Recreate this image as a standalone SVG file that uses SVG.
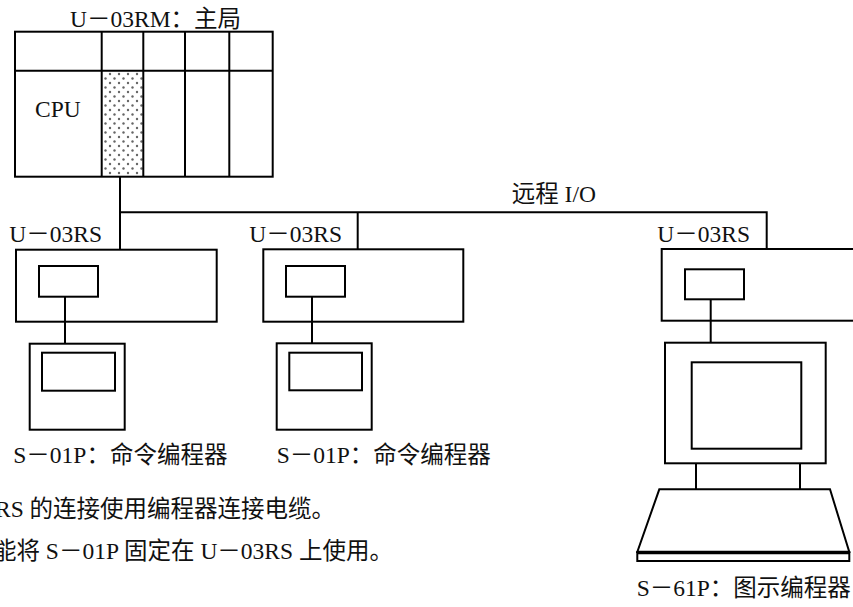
<svg xmlns="http://www.w3.org/2000/svg" width="853" height="607" viewBox="0 0 853 607">
  <style>
    .box { fill: none; stroke: #000; stroke-width: 2; }
    .wire { fill: none; stroke: #000; stroke-width: 2; }
    .lbl { font-family: "Liberation Serif", "Noto Sans CJK SC", serif; font-size: 23.5px; fill: #111; }
  </style>
  <defs>
    <!-- dotted fill for the remote I/O master module slot -->
    <pattern id="dots" width="9" height="9" patternUnits="userSpaceOnUse">
      <rect width="9" height="9" fill="#fff"/>
      <circle cx="2" cy="2" r="1.2" fill="#666"/>
      <circle cx="6.5" cy="6.5" r="1.2" fill="#666"/>
    </pattern>
  </defs>
  <rect width="853" height="607" fill="#fff"/>

  <!-- master rack -->
  <g id="master">
    <rect x="101.7" y="70.7" width="41.6" height="106" fill="url(#dots)"/>
    <rect class="box" x="15" y="31.7" width="257.7" height="145"/>
    <line class="box" x1="15" y1="70.7" x2="272.7" y2="70.7"/>
    <line class="box" x1="101.7" y1="31.7" x2="101.7" y2="176.7"/>
    <line class="box" x1="143.3" y1="31.7" x2="143.3" y2="176.7"/>
    <line class="box" x1="185" y1="31.7" x2="185" y2="176.7"/>
    <line class="box" x1="229.3" y1="31.7" x2="229.3" y2="176.7"/>
    <text class="lbl" x="70" y="26.5">U－03RM：主局</text>
    <text class="lbl" x="35" y="116.5">CPU</text>
  </g>

  <!-- remote I/O bus and device links -->
  <g id="connectors">
    <polyline class="wire" points="120,176.7 120,212.3 766.7,212.3 766.7,249"/>
    <line class="wire" x1="120" y1="212.3" x2="120" y2="249.5"/>
    <line class="wire" x1="357.7" y1="212.3" x2="357.7" y2="249.3"/>
    <line class="wire" x1="65" y1="296.7" x2="65" y2="343.5"/>
    <line class="wire" x1="312" y1="296.7" x2="312" y2="343.3"/>
    <line class="wire" x1="710.7" y1="299.3" x2="710.7" y2="342.7"/>
    <line class="wire" x1="696" y1="463.3" x2="696" y2="489.3"/>
    <line class="wire" x1="800" y1="463.3" x2="800" y2="489.3"/>
    <text class="lbl" x="511.7" y="201.5">远程 I/O</text>
  </g>

  <!-- slave station 1 -->
  <g id="slave1">
    <rect class="box" x="16" y="249.7" width="200.7" height="72"/>
    <rect class="box" x="39" y="266" width="59" height="30.7"/>
    <text class="lbl" x="9.3" y="241.5">U－03RS</text>
  </g>
  <g id="handheld1">
    <rect class="box" x="29.7" y="343.7" width="95" height="86"/>
    <rect class="box" x="42" y="352.7" width="73" height="38"/>
    <text class="lbl" x="13.3" y="463">S－01P：命令编程器</text>
  </g>

  <!-- slave station 2 -->
  <g id="slave2">
    <rect class="box" x="263.3" y="249.3" width="200" height="72.4"/>
    <rect class="box" x="286" y="266" width="59" height="30.7"/>
    <text class="lbl" x="249.3" y="241.5">U－03RS</text>
  </g>
  <g id="handheld2">
    <rect class="box" x="276.7" y="343.3" width="95" height="86.4"/>
    <rect class="box" x="289.3" y="352.7" width="72.7" height="37.6"/>
    <text class="lbl" x="276.7" y="463">S－01P：命令编程器</text>
  </g>

  <!-- slave station 3 -->
  <g id="slave3">
    <rect class="box" x="661.7" y="249" width="200" height="71.7"/>
    <rect class="box" x="685" y="269.3" width="59" height="30"/>
    <text class="lbl" x="657.3" y="241.5">U－03RS</text>
  </g>

  <!-- graphic programmer: monitor + keyboard -->
  <g id="graphic-programmer">
    <rect class="box" x="665" y="342.7" width="160.7" height="120.6"/>
    <rect class="box" x="691.7" y="362.3" width="109.6" height="86.4"/>
    <polygon class="box" points="659.3,489.3 830,489.3 849.3,552 637.3,552"/>
    <rect class="box" x="637.3" y="552" width="212" height="9"/>
    <line x1="637.3" y1="552.5" x2="849.3" y2="552.5" stroke="#000" stroke-width="3.5"/>
    <text class="lbl" x="636.7" y="595.5">S－61P：图示编程器</text>
  </g>

  <!-- notes -->
  <g id="notes">
    <text class="lbl" x="-5" y="517">RS 的连接使用编程器连接电缆。</text>
    <text class="lbl" x="-7" y="559">能将 S－01P 固定在 U－03RS 上使用。</text>
  </g>
</svg>
